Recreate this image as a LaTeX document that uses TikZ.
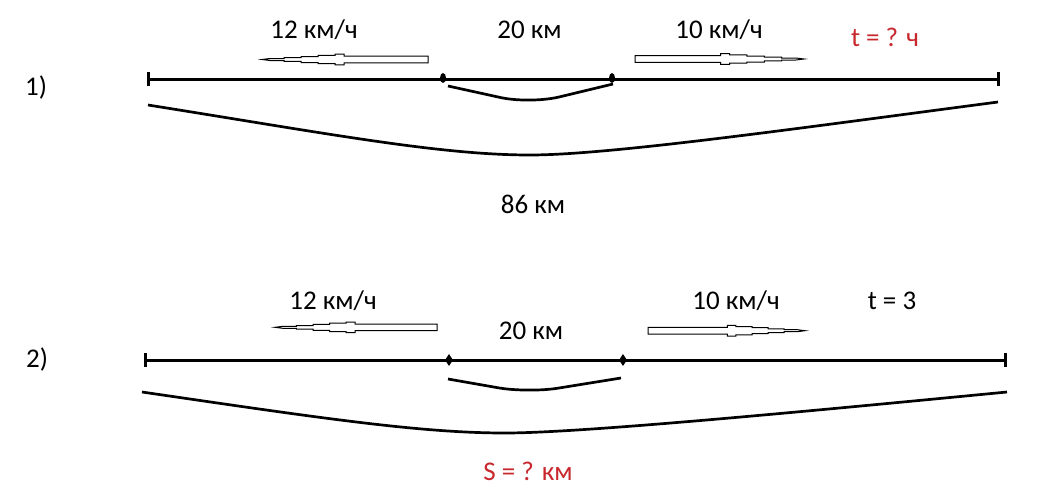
\documentclass[tikz,border=0pt]{standalone}
\usepackage{fontspec}
\setmainfont{Carlito}
\definecolor{qred}{RGB}{200,40,45}
\tikzset{
  lbl/.style={anchor=base,inner sep=0pt,font=\fontsize{27}{31}\selectfont},
  qlbl/.style={lbl,text=qred},
  segline/.style={line width=3pt},
  brace/.style={line width=2.7pt},
  tickmark/.style={line width=3pt},
  dotmark/.style={ellipse,fill=black,inner sep=0pt,minimum width=6pt,minimum height=10pt},
  speedarrow/.pic={
    \draw[line width=1pt,fill=white]
      (0,-3.3) -- (84,-3.3) -- (84,-5.3) -- (93,-5.3) -- (93,-4.2) -- (110,-4.2) -- (110,-3) -- (127,-3)
      -- (127,-1.8) -- (144,-1.8) -- (144,-1) -- (158,-1) -- (166,0) -- (158,1) -- (144,1) -- (144,1.8)
      -- (127,1.8) -- (127,3) -- (110,3) -- (110,4.2) -- (93,4.2) -- (93,5.3) -- (84,5.3) -- (84,3.3)
      -- (0,3.3) -- cycle;
  }
}
\usetikzlibrary{shapes.geometric}
\begin{document}
\begin{tikzpicture}[x=1pt,y=-1pt]
\useasboundingbox (0,0) rectangle (1047,498);
% ---------- 1) ----------
\node[lbl] (n1) at (36,95) {1)};
\coordinate (a1) at (148,79);
\coordinate (b1) at (998,79);
\draw[segline] (a1) -- (b1);
\draw[tickmark] ([yshift=-7pt]a1) -- ([yshift=7pt]a1);
\draw[tickmark] ([yshift=-7pt]b1) -- ([yshift=7pt]b1);
\node[dotmark] (p1) at (443,78) {};
\node[dotmark] (q1) at (612,78) {};
\coordinate (sl1) at (448,86);
\coordinate (sr1) at (613,84);
\draw[brace,rounded corners=30pt] (sl1) -- (530,104) -- (sr1);
\coordinate (bl1) at (148,105);
\coordinate (bm1) at (530,155);
\coordinate (br1) at (998,102);
\draw[brace] (bl1) .. controls (330,134) and (440,155) .. (bm1) .. controls (610,155) and (800,128) .. (br1);
\pic[xscale=-1] at (428,59.5) {speedarrow};
\pic[xscale=1.018] at (635,59) {speedarrow};
\node[lbl] (v11) at (314,38.5) {12 км/ч};
\node[lbl] (d1) at (529.5,38.5) {20 км};
\node[lbl] (v12) at (719,38.5) {10 км/ч};
\node[qlbl] (t1) at (885,46) {t = ? ч};
\node[lbl] (s1) at (533,213) {86 км};
% ---------- 2) ----------
\node[lbl] (n2) at (37,367) {2)};
\coordinate (a2) at (145,360);
\coordinate (b2) at (1005,360);
\draw[segline] (a2) -- (b2);
\draw[tickmark] ([yshift=-7pt]a2) -- ([yshift=7pt]a2);
\draw[tickmark] ([yshift=-7pt]b2) -- ([yshift=7pt]b2);
\node[dotmark,diamond,minimum width=8pt,minimum height=12pt] (p2) at (449,360) {};
\node[dotmark,diamond,minimum width=8pt,minimum height=12pt] (q2) at (623,360) {};
\coordinate (sl2) at (448,379);
\coordinate (sr2) at (621,378);
\draw[brace,rounded corners=30pt] (sl2) -- (528,393) -- (sr2);
\coordinate (bl2) at (142,392);
\coordinate (bm2) at (505,433);
\coordinate (br2) at (1007,392);
\draw[brace] (bl2) .. controls (320,418) and (420,433) .. (bm2) .. controls (580,433) and (800,412) .. (br2);
\pic[xscale=-0.976] at (437,327.3) {speedarrow};
\pic[xscale=0.946] at (648,330.7) {speedarrow};
\node[lbl] (v21) at (333,309) {12 км/ч};
\node[lbl] (d2) at (531,339) {20 км};
\node[lbl] (v22) at (736,309) {10 км/ч};
\node[lbl] (t2) at (892,309) {t = 3};
\node[qlbl] (s2) at (528,480) {S = ? км};
\end{tikzpicture}
\end{document}
